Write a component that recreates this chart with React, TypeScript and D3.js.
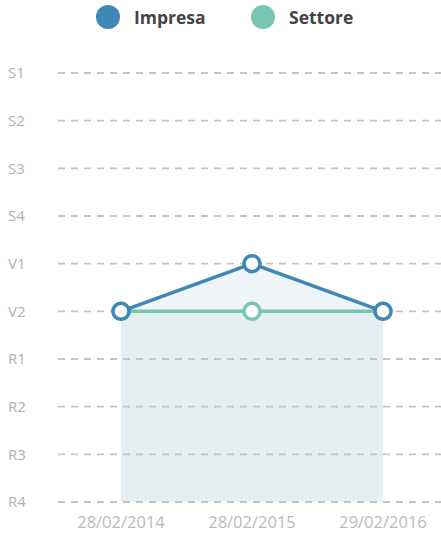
import * as d3 from 'd3';

const LEVELS = ['S1', 'S2', 'S3', 'S4', 'V1', 'V2', 'R1', 'R2', 'R3', 'R4'];
const DATES = ['28/02/2014', '28/02/2015', '29/02/2016'];
const IMPRESA = ['V2', 'V1', 'V2'];
const SETTORE = ['V2', 'V2', 'V2'];

const W = 441;
const H = 535;
const BLUE = '#3f88b5';
const GREEN = '#79c5b1';
const FONT = '"Open Sans", sans-serif';

export default function App() {
  const y = d3.scalePoint<string>().domain(LEVELS).range([73, 502]);
  const x = d3.scalePoint<string>().domain(DATES).range([121, 383]);
  const bottom = y('R4')!;

  const line = d3
    .line<string>()
    .x((_, i) => x(DATES[i])!)
    .y((d) => y(d)!);
  const area = d3
    .area<string>()
    .x((_, i) => x(DATES[i])!)
    .y0(bottom)
    .y1((d) => y(d)!);

  const series = [
    { name: 'Settore', color: GREEN, values: SETTORE },
    { name: 'Impresa', color: BLUE, values: IMPRESA },
  ];

  return (
    <svg
      width={W}
      height={H}
      style={{ position: 'absolute', left: 0, top: 0, fontFamily: FONT }}
    >
      {/* fills: impresa under, settore above */}
      <path d={area(IMPRESA) ?? ''} fill="#eef4f8" />
      <path d={area(SETTORE) ?? ''} fill="#e3eff1" />

      {LEVELS.map((l) => (
        <g key={l}>
          <line
            x1={58}
            x2={W}
            y1={y(l)}
            y2={y(l)}
            stroke="#c4c4c4"
            strokeWidth={1.8}
            strokeDasharray="7,6"
          />
          <text x={8} y={y(l)} dy="0.35em" fontSize={15} fill="#b0b0b0">
            {l}
          </text>
        </g>
      ))}

      {DATES.map((d) => (
        <text
          key={d}
          x={x(d)}
          y={528}
          textAnchor="middle"
          fontSize={16.5}
          fill="#bababa"
        >
          {d}
        </text>
      ))}

      {series.map((s) => (
        <g key={s.name}>
          <path d={line(s.values) ?? ''} fill="none" stroke={s.color} strokeWidth={3.5} />
          {s.values.map((v, i) => (
            <circle
              key={i}
              cx={x(DATES[i])}
              cy={y(v)}
              r={8}
              fill="#fff"
              stroke={s.color}
              strokeWidth={3.5}
            />
          ))}
        </g>
      ))}

      {/* legend */}
      <circle cx={108} cy={17} r={12} fill={BLUE} />
      <text x={134} y={24} fontSize={17.5} fontWeight={700} fill="#444">
        Impresa
      </text>
      <circle cx={263} cy={17} r={12} fill={GREEN} />
      <text x={289} y={24} fontSize={17.5} fontWeight={700} fill="#444">
        Settore
      </text>
    </svg>
  );
}
